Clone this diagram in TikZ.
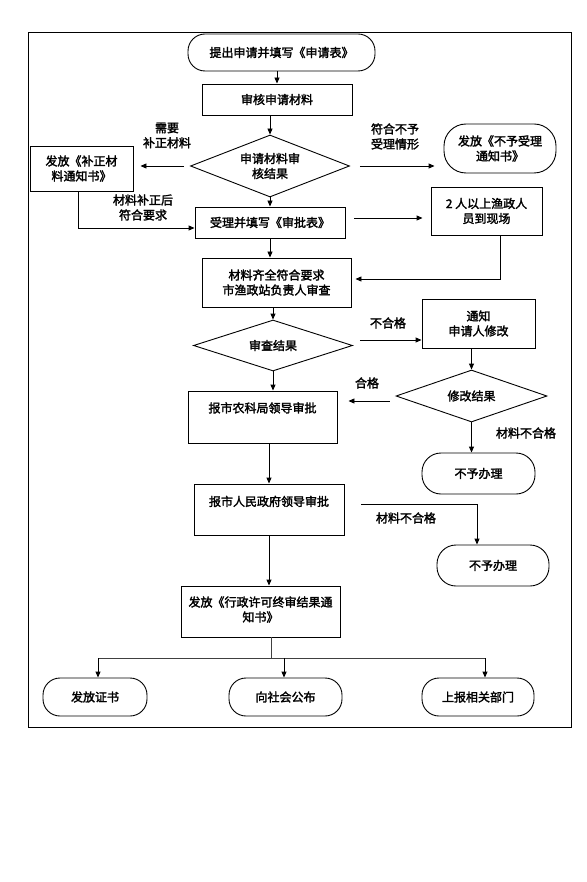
\documentclass[tikz,border=0pt]{standalone}
\usepackage{fontspec}
\setmainfont{Noto Sans CJK SC}[BoldFont={Noto Sans CJK SC}, BoldFeatures={FakeBold=2.2}]
\usepackage{tikz}
\usetikzlibrary{shapes.geometric,arrows.meta}

\begin{document}
\begin{tikzpicture}[x=1pt, y=-1pt,
    font=\fontsize{12}{15}\selectfont\bfseries,
    every node/.style={align=center, inner sep=2pt},
    box/.style={draw, line width=0.9pt, rectangle},
    term/.style={draw, line width=0.9pt, rectangle, rounded corners=17pt},
    pan/.style={draw, line width=0.9pt, diamond, aspect=3, inner sep=0pt},
    arr/.style={line width=0.9pt, -{Triangle[length=6pt,width=5pt]}},
    lin/.style={line width=0.9pt, black!75}]
    \useasboundingbox (0,0) rectangle (586,882);
    \draw[line width=0.9pt] (28,32) rectangle (571,727);

    % 受理
    \node[term, minimum width=187pt, minimum height=37pt] (start) at (281.5,52.5) {提出申请并填写《申请表》};
    \node[box, minimum width=150pt, minimum height=31pt] (shenhe) at (277,99.5) {审核申请材料};
    \node[pan, minimum width=159pt, minimum height=62pt] (jieguo) at (270,166) {申请材料审\\核结果};
    \node[box, minimum width=103pt, minimum height=45pt] (buzheng) at (81.5,168.5) {发放《补正材\\料通知书》};
    \node[term, minimum width=112pt, minimum height=49pt, rounded corners=22pt] (bushouli) at (500,148.5) {发放《不予受理\\通知书》};
    \node[box, minimum width=150pt, minimum height=31pt] (shouli) at (270,222.5) {受理并填写《审批表》};
    \node[box, minimum width=111pt, minimum height=48pt] (xianchang) at (486.5,211) {2 人以上渔政人\\员到现场};

    \draw[arr] (start.south -| shenhe.north) -- (shenhe.north);
    \draw[arr] (shenhe.south -| jieguo.north) -- (jieguo.north);
    \draw[arr, shorten <=6pt, shorten >=7pt] (jieguo.west) -- (buzheng.east |- jieguo.west);
    \draw[arr, shorten <=10pt, shorten >=9pt] (jieguo.east) -- (bushouli.west |- jieguo.east);
    \draw[arr] (jieguo.south) -- (shouli.north);
    \draw[arr] ([xshift=-3.5pt]buzheng.south) |- ([yshift=-5.5pt]shouli.west);
    \draw[arr, shorten <=9pt, shorten >=8pt] ([yshift=4.5pt]shouli.east) -- ([yshift=4.5pt]shouli.east -| xianchang.west);

    \node (xuyao) at (167,135.5) {需要\\补正材料};
    \node (qingxing) at (395,136.5) {符合不予\\受理情形};
    \node (fuhe) at (143,207.5) {材料补正后\\符合要求};

    % 审查
    \node[box, minimum width=149pt, minimum height=49pt] (shencha) at (276.5,282.5) {材料齐全符合要求\\市渔政站负责人审查};
    \node[pan, minimum width=159pt, minimum height=51pt] (jieguo2) at (273,345.5) {审查结果};
    \node[box, minimum width=113pt, minimum height=49pt] (tongzhi) at (478.5,323.5) {通知\\申请人修改};
    \node[pan, minimum width=151pt, minimum height=52pt] (xiugai) at (471.5,396) {修改结果};
    \node[term, minimum width=113pt, minimum height=41pt, rounded corners=19pt] (buyu1) at (478.5,473.5) {不予办理};

    \draw[arr] (shouli.south) -- (shouli.south |- shencha.north);
    \draw[arr, shorten >=4pt] ([xshift=13.5pt]xianchang.south) |- ([yshift=3.5pt]shencha.east);
    \draw[arr] (shencha.south -| jieguo2.north) -- (jieguo2.north);
    \draw[arr, shorten <=7pt] ([yshift=5.5pt]jieguo2.east) -- ([yshift=5.5pt]jieguo2.east -| tongzhi.west);
    \draw[arr] (tongzhi.south -| xiugai.north) -- (xiugai.north);
    \draw[arr] (xiugai.south) -- (xiugai.south |- buyu1.north);

    \node (buhege) at (388,323) {不合格};
    \node (hege) at (367,383) {合格};
    \node (buhege2) at (526,433) {材料不合格};

    % 审批
    \node[box, minimum width=149pt, minimum height=52pt, text height=10pt, text depth=19pt] (nongke) at (262.5,417) {报市农科局领导审批};
    \node[box, minimum width=150pt, minimum height=51pt, text height=10pt, text depth=17pt] (zhengfu) at (269,509.5) {报市人民政府领导审批};
    \node[term, minimum width=112pt, minimum height=41pt, rounded corners=19pt] (buyu2) at (493,565.5) {不予办理};
    \node[box, minimum width=159pt, minimum height=51pt, text depth=5pt] (zhongshen) at (260.5,611.5) {发放《行政许可终审结果通\\知书》};

    \draw[arr, shorten <=6pt, shorten >=11pt] ([yshift=-5pt]xiugai.west) -- ([yshift=-5pt]xiugai.west -| nongke.east);
    \draw[arr] (jieguo2.south) -- (jieguo2.south |- nongke.north);
    \draw[arr] (zhengfu.north |- nongke.south) -- (zhengfu.north);
    \draw[arr, shorten <=17pt] ([yshift=5.5pt]zhengfu.east) -| ([xshift=-16pt]buyu2.north);
    \draw[arr] (zhengfu.south) -- (zhengfu.south |- zhongshen.north);

    \node (buhege3) at (406,518) {材料不合格};

    % 结果
    \node[term, minimum width=104pt, minimum height=38pt] (fazheng) at (95,697) {发放证书};
    \node[term, minimum width=113pt, minimum height=38pt] (gongbu) at (285.5,697) {向社会公布};
    \node[term, minimum width=112pt, minimum height=38pt] (shangbao) at (478,697) {上报相关部门};
    \coordinate (fen) at (271,658);

    \draw[lin] (zhongshen.south -| fen) -- (fen);
    \draw[lin] ([xshift=3pt]fazheng.north |- fen) -- ([xshift=7pt]shangbao.north |- fen);
    \draw[arr] ([xshift=3pt]fazheng.north |- fen) -- ([xshift=3pt]fazheng.north);
    \draw[arr] ([xshift=-1.5pt]gongbu.north |- fen) -- ([xshift=-1.5pt]gongbu.north);
    \draw[arr] ([xshift=7pt]shangbao.north |- fen) -- ([xshift=7pt]shangbao.north);
\end{tikzpicture}
\end{document}
